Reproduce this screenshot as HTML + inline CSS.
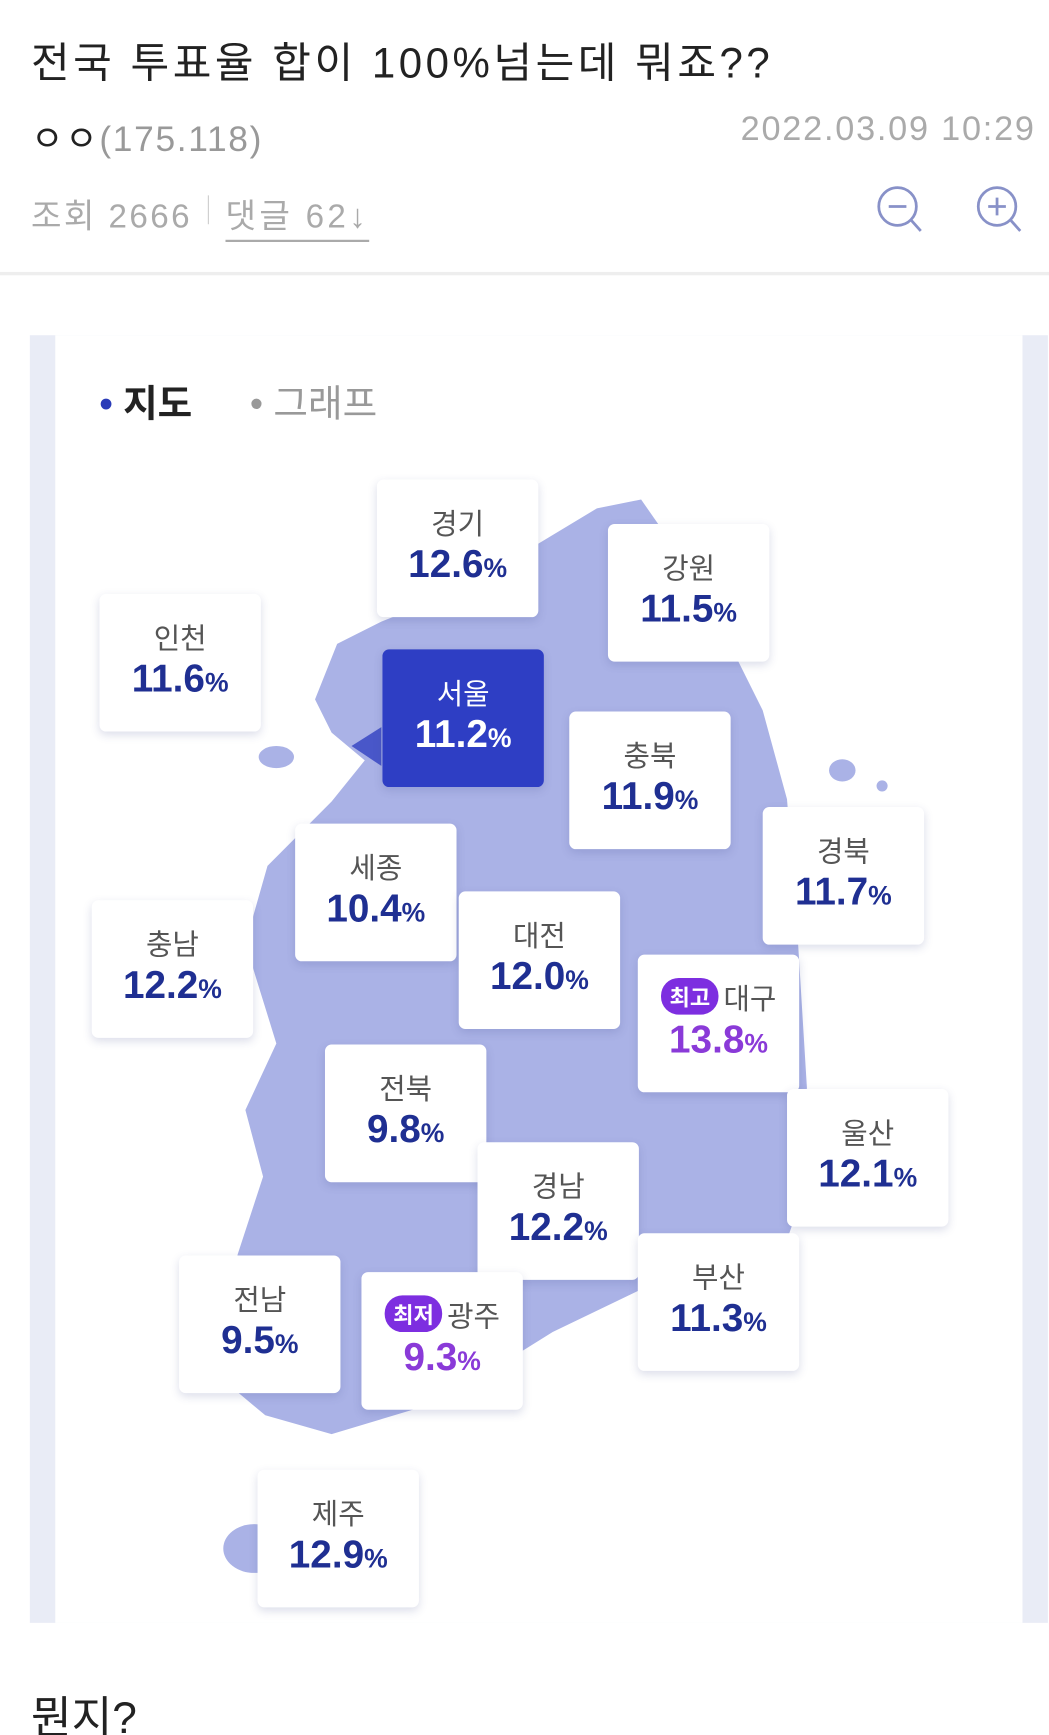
<!DOCTYPE html>
<html><head><meta charset="utf-8">
<style>
html,body{margin:0;padding:0;background:#fff;overflow:hidden}
#wrap{width:949px;height:1563px;position:relative;transform:scale(1.10537,1.11004);transform-origin:0 0;font-family:"Liberation Sans","Noto Sans CJK KR",sans-serif}
.abs{position:absolute;white-space:nowrap}
.card{position:absolute;width:146px;height:124px;background:#fff;border-radius:6px;box-shadow:0 3px 8px rgba(60,70,140,0.18);text-align:center}
.card .lab{position:absolute;left:0;right:0;top:20px;font-size:26px;color:#555}
.card .val{position:absolute;left:0;right:0;top:57px;font-size:35px;font-weight:bold;color:#1f2f92;letter-spacing:0px}
.card .val small{font-size:24px;font-weight:bold}
.badge{display:inline-block;background:#7d2ee0;color:#fff;font-size:20px;font-weight:bold;border-radius:16px;padding:2px 8px;margin-right:4px;vertical-align:3px}
</style></head><body>
<div id="wrap">
<div class="abs" style="left:28px;top:26px;font-size:38px;letter-spacing:3.2px;color:#222">전국 투표율 합이 100%넘는데 뭐죠??</div>
<div class="abs" style="left:28px;top:100px;font-size:32px;letter-spacing:1.5px;color:#222">ㅇㅇ<span style="color:#999">(175.118)</span></div>
<div class="abs" style="right:12px;top:98px;font-size:31px;letter-spacing:1.6px;color:#aaa">2022.03.09 10:29</div>
<div class="abs" style="left:28px;top:170px;font-size:30px;letter-spacing:2.2px;color:#aaa">조회 2666</div>
<div class="abs" style="left:188px;top:176px;width:1px;height:26px;background:#ccc"></div>
<div class="abs" style="left:204px;top:170px;font-size:30px;letter-spacing:3px;color:#aaa;border-bottom:2px solid #aaa;padding-bottom:2px">댓글 62↓</div>
<svg class="abs" style="left:790px;top:165px" width="50" height="50"><circle cx="22" cy="21" r="17" fill="none" stroke="#8891c8" stroke-width="2.5"/><line x1="14" y1="21" x2="30" y2="21" stroke="#8891c8" stroke-width="2.5"/><line x1="34" y1="33" x2="43" y2="43" stroke="#8891c8" stroke-width="2.5"/></svg>
<svg class="abs" style="left:880px;top:165px" width="50" height="50"><circle cx="22" cy="21" r="17" fill="none" stroke="#8891c8" stroke-width="2.5"/><line x1="14" y1="21" x2="30" y2="21" stroke="#8891c8" stroke-width="2.5"/><line x1="22" y1="13" x2="22" y2="29" stroke="#8891c8" stroke-width="2.5"/><line x1="34" y1="33" x2="43" y2="43" stroke="#8891c8" stroke-width="2.5"/></svg>
<div class="abs" style="left:0;top:245px;width:949px;height:3px;background:#eee"></div>

<div class="abs" style="left:27px;top:302px;width:921px;height:1160px;background:#e9ecf6"></div>
<div class="abs" style="left:50px;top:302px;width:875px;height:1160px;background:#fff"></div>
<div class="abs" style="left:90px;top:336px;font-size:34px;font-weight:bold;color:#222"><span style="color:#2a3bb8">•</span> 지도</div>
<div class="abs" style="left:226px;top:336px;font-size:34px;color:#999"><span>•</span> 그래프</div>

<svg class="abs" style="left:0;top:0" width="949" height="1563">
<polygon points="540,458 580,450 615,500 650,560 690,640 712,720 722,850 730,980 718,1100 700,1150 600,1152 500,1200 400,1262 300,1292 240,1275 192,1235 215,1130 238,1060 222,1000 250,940 222,850 242,780 300,722 330,685 300,660 285,630 305,580 345,560 420,530 470,500" fill="#aab2e6"/>
<polygon points="318,672 345,655 345,690" fill="#4957c9"/>
<ellipse cx="250" cy="682" rx="16" ry="10" fill="#aab2e6"/>
<ellipse cx="762" cy="694" rx="12" ry="10" fill="#aab2e6"/>
<ellipse cx="798" cy="708" rx="5" ry="5" fill="#aab2e6"/>
<ellipse cx="230" cy="1395" rx="28" ry="22" fill="#aab2e6"/>
</svg>
<div id="cards"></div>
<div class="abs" style="left:28px;top:1515px;font-size:40px;color:#222">뭔지?</div>
</div>
<script>
const regions=["경기","강원","인천","서울","충북","경북","세종","충남","대전","대구","전북","울산","경남","부산","전남","광주","제주"];
const turnout=[12.6,11.5,11.6,11.2,11.9,11.7,10.4,12.2,12.0,13.8,9.8,12.1,12.2,11.3,9.5,9.3,12.9];
const cardLayout=[[341,432],[550,472],[90,535],[346,585],[515,641],[690,727],[267,742],[83,811],[415,803],[577,860],[294,941],[712,981],[432,1029],[577,1111],[162,1131],[327,1146],[233,1324]];
const cont=document.getElementById('cards');
const maxV=Math.max(...turnout),minV=Math.min(...turnout);
regions.forEach((r,i)=>{
  const v=turnout[i];
  const c=document.createElement('div');
  c.className='card';
  
  
  c.style.left=cardLayout[i][0]+'px';c.style.top=cardLayout[i][1]+'px';
  const special=v===maxV?'최고':(v===minV?'최저':'');
  const sel=r==='서울';
  if(sel){c.style.background='#2e3ec4';}
  const col=special?'#8a3ad8':(sel?'#fff':'#1f2f92');
  c.innerHTML='<div class="lab" style="color:'+(sel?'#fff':'#555')+'">'+(special?'<span class="badge">'+special+'</span>':'')+r+'</div><div class="val" style="color:'+col+'">'+v.toFixed(1)+'<small>%</small></div>';
  cont.appendChild(c);
});
</script>
</body></html>
